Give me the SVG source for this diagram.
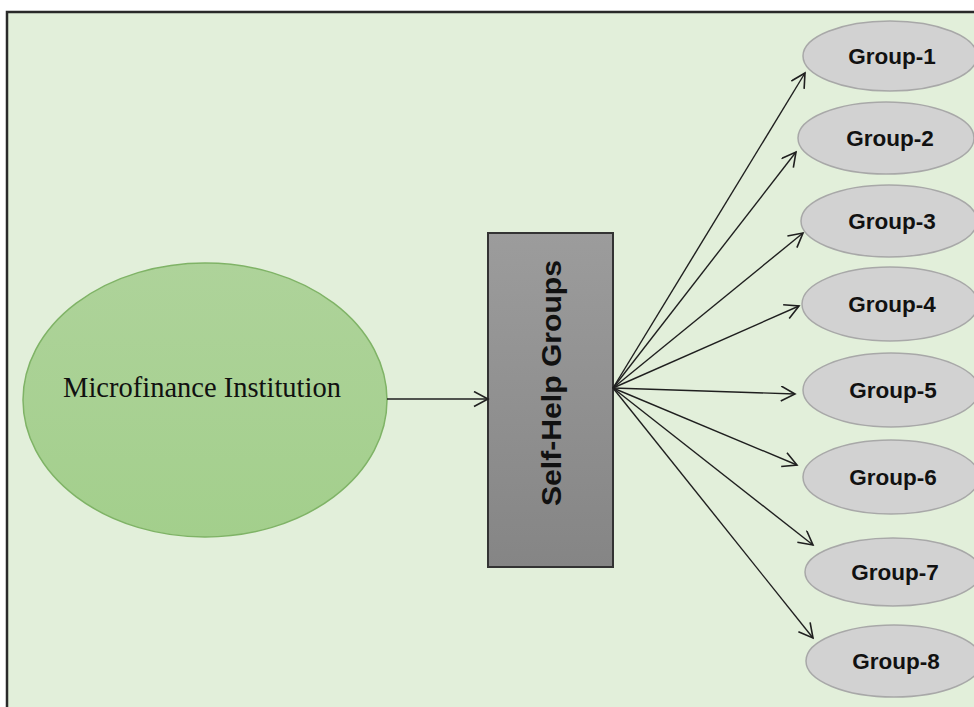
<svg xmlns="http://www.w3.org/2000/svg" width="974" height="707" viewBox="0 0 974 707">
  <defs>
    <marker id="arr" markerUnits="userSpaceOnUse" markerWidth="20" markerHeight="20" refX="15" refY="8" orient="auto">
      <path d="M1,0.5 L15,8 L1,15.5" fill="none" stroke="#1f1f1f" stroke-width="1.6"/>
    </marker>
    <linearGradient id="gray" x1="0" y1="0" x2="0" y2="1">
      <stop offset="0" stop-color="#9c9c9c"/>
      <stop offset="1" stop-color="#858585"/>
    </linearGradient>
    <linearGradient id="green" x1="0" y1="0" x2="0" y2="1">
      <stop offset="0" stop-color="#aed39a"/>
      <stop offset="1" stop-color="#a3cf8c"/>
    </linearGradient>
  </defs>
  <style>
    .conn { stroke: #1f1f1f; stroke-width: 1.4; fill: none; marker-end: url(#arr); }
    .grp ellipse { fill: #d2d2d2; stroke: #a8a8a8; stroke-width: 1.5; }
    .grp text { font-family: "Liberation Sans", Arial, sans-serif; font-weight: bold; font-size: 22.5px; fill: #111; text-anchor: middle; }
  </style>
  <rect x="0" y="0" width="974" height="707" fill="#ffffff"/>
  <rect x="7" y="12" width="1000" height="720" fill="#e2efda" stroke="#2a2a2a" stroke-width="2.5"/>

  <g id="mfi">
    <ellipse cx="205" cy="400" rx="182" ry="137" fill="url(#green)" stroke="#7fb366" stroke-width="1.5"/>
    <text x="202" y="397" font-family="'Liberation Serif', 'Times New Roman', serif" font-size="28.5" fill="#111" text-anchor="middle">Microfinance Institution</text>
  </g>

  <g id="shg">
    <rect x="488" y="233" width="125" height="334" fill="url(#gray)" stroke="#333" stroke-width="2"/>
    <text transform="translate(561,383) rotate(-90)" font-family="'Liberation Sans', Arial, sans-serif" font-weight="bold" font-size="27" fill="#111" text-anchor="middle" textLength="246" lengthAdjust="spacingAndGlyphs">Self-Help Groups</text>
  </g>

  <g id="connectors">
    <line class="conn" x1="387" y1="399" x2="488" y2="399"/>
    <line class="conn" x1="613" y1="388" x2="805" y2="73"/>
    <line class="conn" x1="613" y1="388" x2="796" y2="152"/>
    <line class="conn" x1="613" y1="388" x2="803" y2="233"/>
    <line class="conn" x1="613" y1="388" x2="799" y2="306"/>
    <line class="conn" x1="613" y1="388" x2="795" y2="394"/>
    <line class="conn" x1="613" y1="388" x2="797" y2="465"/>
    <line class="conn" x1="613" y1="388" x2="813" y2="545"/>
    <line class="conn" x1="613" y1="388" x2="813" y2="638"/>
  </g>

  <g id="group-1" class="grp"><ellipse cx="890" cy="56" rx="87" ry="35"/><text x="892" y="64">Group-1</text></g>
  <g id="group-2" class="grp"><ellipse cx="886" cy="138" rx="88" ry="36"/><text x="890" y="146">Group-2</text></g>
  <g id="group-3" class="grp"><ellipse cx="889" cy="221" rx="88" ry="36"/><text x="892" y="229">Group-3</text></g>
  <g id="group-4" class="grp"><ellipse cx="890" cy="304" rx="88" ry="37"/><text x="892" y="312">Group-4</text></g>
  <g id="group-5" class="grp"><ellipse cx="891" cy="390" rx="88" ry="37"/><text x="893" y="398">Group-5</text></g>
  <g id="group-6" class="grp"><ellipse cx="891" cy="477" rx="88" ry="37"/><text x="893" y="485">Group-6</text></g>
  <g id="group-7" class="grp"><ellipse cx="893" cy="572" rx="88" ry="34"/><text x="895" y="580">Group-7</text></g>
  <g id="group-8" class="grp"><ellipse cx="894" cy="661" rx="88" ry="36"/><text x="896" y="669">Group-8</text></g>
</svg>
